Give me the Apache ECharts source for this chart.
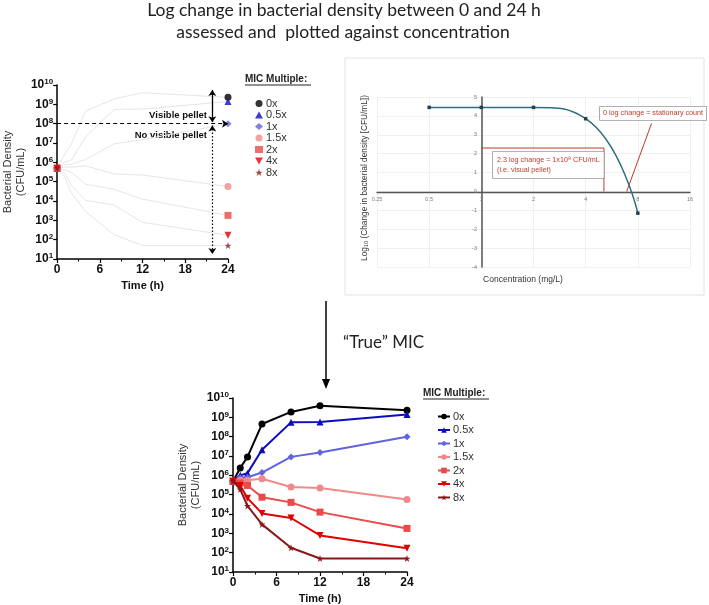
<!DOCTYPE html>
<html>
<head>
<meta charset="utf-8">
<script src="https://cdn.jsdelivr.net/npm/echarts@6/dist/echarts.min.js"></script>
<style>
html, body { margin: 0; padding: 0; background: #fff; }
#chart { width: 709px; height: 605px; }
</style>
</head>
<body>
<div id="chart"></div>
<script>
// time-kill counts (CFU/mL) at each sampling time, per MIC multiple
var times = [0, 1, 2, 4, 8, 12, 24];
var micNames = ['0x', '0.5x', '1x', '1.5x', '2x', '4x', '8x'];
var cfu0x = [5e5, 2.4e6, 9e6, 4.5e8, 1.9e9, 4e9, 2.3e9];
var cfu05x = [5e5, 1e6, 1.3e6, 2.1e7, 5.5e8, 5.7e8, 1.4e9];
var cfu1x = [5e5, 7.4e5, 8e5, 1.4e6, 9e6, 1.5e7, 1e8];
var cfu15x = [5e5, 5.6e5, 5.6e5, 6.6e5, 2.5e5, 2.2e5, 5.6e4];
var cfu2x = [5e5, 4e5, 3e5, 7.4e4, 4e4, 1.25e4, 1.8e3];
var cfu4x = [5e5, 3e5, 6.6e4, 1.07e4, 6.2e3, 7.8e2, 1.7e2];
var cfu8x = [5e5, 1.9e5, 2.6e4, 2.9e3, 1.8e2, 50, 50];

// log10 change over 24 h vs concentration
var concentration = [0.5, 1, 2, 4, 8];
var logChange = [4.45, 4.45, 4.45, 3.85, -1.15];
var pelletGuide = [[1, 2.3], [5.1, 2.3], [5.1, 0]];
var stationaryPointer = [[6.9, 0], [9.6, 3.6]];

// pellet threshold and the two arrows on the first panel
var pelletLevel = 1e8;
var visibleArrow = [[21.8, 5.5e9], [21.8, 1.2e8]];
var noPelletArrow = [[21.8, 8e7], [21.8, 18]];

var allCounts = [cfu0x, cfu05x, cfu1x, cfu15x, cfu2x, cfu4x, cfu8x];
var colors = ['#000000', '#0b0bc4', '#6262e4', '#f08a8a', '#ea4a4a', '#e00000', '#8a1818'];
var downTri = 'path://M0,0L10,0L5,9Z';
var star = 'path://M5,0L6.2,3.4L9.8,3.4L6.9,5.6L8,9L5,6.9L2,9L3.1,5.6L0.2,3.4L3.8,3.4Z';
var symbols = ['circle', 'triangle', 'diamond', 'circle', 'rect', downTri, star];
var symSizes = [7, 7, 7, 7, 7, 7, 7];

var FONT = 'Liberation Sans, Arial, sans-serif';

function pairs(xs, ys) {
    return xs.map(function (x, i) { return [x, ys[i]]; });
}

function powLabel(v) {
    var e = Math.round(Math.log10(v));
    return '{b|10}{s|' + e + '}';
}

var powRich = {
    b: { fontSize: 12, fontWeight: 'bold', color: '#111', fontFamily: FONT },
    s: { fontSize: 8, fontWeight: 'bold', color: '#111', fontFamily: FONT, verticalAlign: 'top', padding: [0, 0, 6, 0] }
};

function timeAxis(gridIndex) {
    return {
        type: 'value', gridIndex: gridIndex, min: 0, max: 24, interval: 6,
        axisLine: { lineStyle: { color: '#000', width: 1.5 } },
        axisTick: { length: 4, lineStyle: { color: '#000', width: 1.2 } },
        minorTick: { show: true, splitNumber: 2, length: 2.5, lineStyle: { color: '#000' } },
        splitLine: { show: false },
        axisLabel: { fontSize: 12, fontWeight: 'bold', color: '#111', fontFamily: FONT, margin: 5 },
        name: 'Time (h)', nameLocation: 'middle', nameGap: 21,
        nameTextStyle: { fontSize: 11, fontWeight: 'bold', color: '#111', fontFamily: FONT }
    };
}

function densityAxis(gridIndex, gap) {
    return {
        type: 'log', logBase: 10, gridIndex: gridIndex, min: 10, max: 1e10, splitNumber: 9,
        axisLine: { show: true, lineStyle: { color: '#000', width: 1.5 } },
        axisTick: { show: true, length: 4, lineStyle: { color: '#000', width: 1.2 } },
        splitLine: { show: false },
        axisLabel: { formatter: powLabel, rich: powRich, margin: 4 },
        name: 'Bacterial Density\n(CFU/mL)', nameLocation: 'middle', nameGap: gap,
        nameTextStyle: { fontSize: 11, color: '#333', fontFamily: FONT, lineHeight: 13 }
    };
}

var series = [];

// faded curves behind the 24 h points
allCounts.forEach(function (counts) {
    series.push({
        type: 'line', xAxisIndex: 0, yAxisIndex: 0, silent: true,
        data: pairs(times, counts), symbol: 'none',
        lineStyle: { color: '#e6e6e6', width: 1 }, z: 1
    });
});

series[0].markLine = {
    silent: true, symbol: ['arrow', 'arrow'], symbolSize: 6, label: { show: false },
    data: [
        { yAxis: pelletLevel, symbol: 'none', lineStyle: { type: [4, 3], color: '#000', width: 1.2 } },
        [{ coord: visibleArrow[0], lineStyle: { type: 'solid', color: '#000', width: 1.3 } }, { coord: visibleArrow[1] }],
        [{ coord: noPelletArrow[0], lineStyle: { type: [1.5, 2], color: '#000', width: 1.2 } }, { coord: noPelletArrow[1] }]
    ]
};

// start and 24 h markers
allCounts.forEach(function (counts, i) {
    series.push({
        type: 'scatter', name: 't' + micNames[i], xAxisIndex: 0, yAxisIndex: 0,
        data: [[0, counts[0]], [24, counts[counts.length - 1]]],
        symbol: symbols[i], symbolSize: symSizes[i],
        itemStyle: { color: colors[i] }, z: 3
    });
});

// log change curve
series.push({
    type: 'line', xAxisIndex: 1, yAxisIndex: 1, data: pairs(concentration, logChange),
    smooth: 0.5, symbol: 'rect', symbolSize: 3.5,
    lineStyle: { color: '#2e6e7e', width: 1.5 }, itemStyle: { color: '#1e4450' }, z: 3
});
series.push({
    type: 'line', xAxisIndex: 1, yAxisIndex: 1, data: pelletGuide, symbol: 'none',
    lineStyle: { color: '#c0392b', width: 1 }, z: 2
});
series.push({
    type: 'line', xAxisIndex: 1, yAxisIndex: 1, data: stationaryPointer, symbol: 'none',
    lineStyle: { color: '#c0392b', width: 1 }, z: 2
});

// full time-kill curves
allCounts.forEach(function (counts, i) {
    series.push({
        type: 'line', name: micNames[i], xAxisIndex: 2, yAxisIndex: 2,
        data: pairs(times, counts), symbol: symbols[i], symbolSize: symSizes[i],
        lineStyle: { color: colors[i], width: 2 }, itemStyle: { color: colors[i] }, z: 3 + i
    });
});

function legendTitle(x, y) {
    return [
        { type: 'text', x: x, y: y, style: { text: 'MIC Multiple:', fill: '#222', font: 'bold 10px ' + FONT, textVerticalAlign: 'middle', verticalAlign: 'middle' } },
        { type: 'line', shape: { x1: x, y1: y + 6, x2: x + 66, y2: y + 6 }, style: { stroke: '#222', lineWidth: 1 } }
    ];
}

function centered(x, y, text, font, fill, extra) {
    var el = { type: 'text', x: x, y: y, style: { text: text, fill: fill, font: font, textAlign: 'center', align: 'center', textVerticalAlign: 'middle', verticalAlign: 'middle' } };
    if (extra) Object.keys(extra).forEach(function (k) { el[k] = extra[k]; });
    return el;
}

function rightAligned(x, y, text, font) {
    return { type: 'text', x: x, y: y, style: { text: text, fill: '#111', font: font, textAlign: 'right', align: 'right', textVerticalAlign: 'middle', verticalAlign: 'middle' } };
}

var graphic = [
    { type: 'rect', shape: { x: 345, y: 58, width: 359, height: 237 }, style: { fill: 'none', stroke: '#e2e2e2', lineWidth: 1 }, z: -1 },
    centered(344, 10, 'Log change in bacterial density between 0 and 24 h', '17.5px Lato, sans-serif', '#222'),
    centered(343, 32, 'assessed and  plotted against concentration', '17.5px Lato, sans-serif', '#222'),
    rightAligned(207, 115, 'Visible pellet', 'bold 9.5px ' + FONT),
    rightAligned(207, 135, 'No visible pellet', 'bold 9.5px ' + FONT),
    centered(365, 178, 'Log\u2081\u2080 (Change in bacterial density [CFU/mL])', '8.3px ' + FONT, '#333', { rotation: Math.PI / 2 }),
    centered(523, 280, 'Concentration (mg/L)', '8.5px ' + FONT, '#333'),
    { type: 'text', x: 600, y: 107, z: 10, style: { text: '0 log change = stationary count', fill: '#c0392b', font: '7.2px ' + FONT, backgroundColor: '#fff', borderColor: '#999', borderWidth: 0.8, padding: [3, 3, 3, 3] } },
    { type: 'text', x: 493, y: 152, z: 10, style: { text: '2.3 log change = 1x10\u2078 CFU/mL\n(i.e. visual pellet)', fill: '#c0392b', font: '7.2px ' + FONT, lineHeight: 10, backgroundColor: '#fff', borderColor: '#999', borderWidth: 0.8, padding: [3, 4, 3, 4] } },
    { type: 'line', shape: { x1: 326, y1: 301, x2: 326, y2: 381 }, style: { stroke: '#000', lineWidth: 1.5 } },
    { type: 'polygon', shape: { points: [[322, 379], [330, 379], [326, 389]] }, style: { fill: '#000' } },
    { type: 'text', x: 343, y: 343, style: { text: '\u201cTrue\u201d MIC', fill: '#222', font: '17px Lato, sans-serif', textVerticalAlign: 'middle', verticalAlign: 'middle' } }
].concat(legendTitle(245, 79), legendTitle(423, 393));

var chart = echarts.init(document.getElementById('chart'), null, { renderer: 'canvas' });
chart.setOption({
    animation: false,
    backgroundColor: '#fff',
    textStyle: { fontFamily: FONT },
    grid: [
        { left: 54, top: 85, width: 174, height: 174 },
        { left: 377, top: 97, width: 313, height: 170 },
        { left: 233, top: 398, width: 174, height: 175 }
    ],
    xAxis: [
        timeAxis(0),
        {
            type: 'log', logBase: 2, gridIndex: 1, min: 0.25, max: 16, splitNumber: 6,
            position: 'bottom', offset: -75,
            axisLine: { onZero: false, lineStyle: { color: '#555', width: 1.3 } },
            axisTick: { show: false },
            splitLine: { show: true, lineStyle: { color: '#ececec', width: 0.8 } },
            axisLabel: { fontSize: 5.5, color: '#777', margin: 4, showMinLabel: true, showMaxLabel: true }
        },
        timeAxis(2)
    ],
    yAxis: [
        densityAxis(0, 30),
        {
            type: 'value', gridIndex: 1, min: -4, max: 5, interval: 1, offset: -105,
            axisLine: { show: true, lineStyle: { color: '#555', width: 1.5 } },
            axisTick: { show: false },
            splitLine: { show: true, lineStyle: { color: '#ececec', width: 0.8 } },
            axisLabel: { fontSize: 5.5, color: '#777', margin: 5 }
        },
        densityAxis(2, 29)
    ],
    legend: [
        {
            data: micNames.map(function (n) { return 't' + n; }),
            formatter: function (name) { return name.slice(1); },
            orient: 'vertical', left: 250, top: 93, itemWidth: 8, itemHeight: 7, itemGap: 0.5,
            textStyle: { fontSize: 11, color: '#333', fontFamily: FONT, padding: [0, 0, 0, -2] },
            selectedMode: false
        },
        {
            data: micNames,
            orient: 'vertical', left: 432, top: 406, itemWidth: 12, itemHeight: 7, itemGap: 2.5,
            textStyle: { fontSize: 11, color: '#333', fontFamily: FONT, padding: [0, 0, 0, -2] },
            selectedMode: false
        }
    ],
    graphic: graphic,
    series: series
});
</script>
</body>
</html>
